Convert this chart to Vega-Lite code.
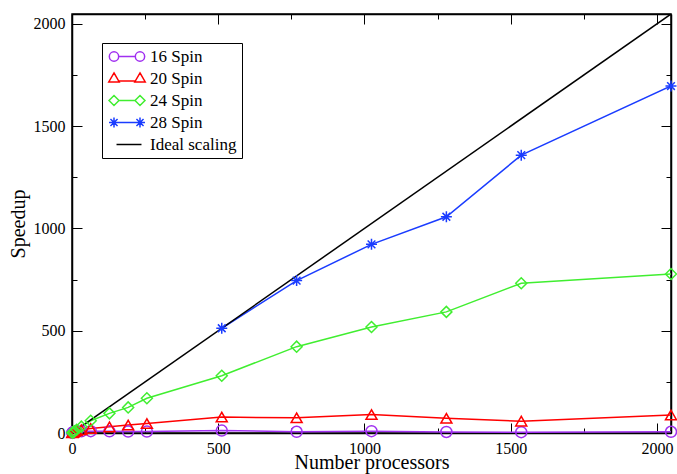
{
  "$schema": "https://vega.github.io/schema/vega-lite/v6.json",
  "width": 599,
  "height": 419,
  "autosize": {"type": "none"},
  "padding": {"left": 72, "top": 14, "right": 6, "bottom": 41},
  "background": "white",
  "config": {"font": "Liberation Serif", "view": {"stroke": "black", "strokeWidth": 1.5}},
  "data": {"values": [
    {"series": "16 Spin", "procs": 1, "speedup": 1},
    {"series": "16 Spin", "procs": 2, "speedup": 2},
    {"series": "16 Spin", "procs": 4, "speedup": 3.5},
    {"series": "16 Spin", "procs": 8, "speedup": 5},
    {"series": "16 Spin", "procs": 16, "speedup": 7},
    {"series": "16 Spin", "procs": 32, "speedup": 8},
    {"series": "16 Spin", "procs": 64, "speedup": 9},
    {"series": "16 Spin", "procs": 128, "speedup": 8},
    {"series": "16 Spin", "procs": 192, "speedup": 7},
    {"series": "16 Spin", "procs": 256, "speedup": 7},
    {"series": "16 Spin", "procs": 512, "speedup": 12},
    {"series": "16 Spin", "procs": 768, "speedup": 6},
    {"series": "16 Spin", "procs": 1024, "speedup": 9},
    {"series": "16 Spin", "procs": 1280, "speedup": 5},
    {"series": "16 Spin", "procs": 1536, "speedup": 4},
    {"series": "16 Spin", "procs": 2048, "speedup": 6},
    {"series": "20 Spin", "procs": 1, "speedup": 1},
    {"series": "20 Spin", "procs": 2, "speedup": 2},
    {"series": "20 Spin", "procs": 4, "speedup": 4},
    {"series": "20 Spin", "procs": 8, "speedup": 7},
    {"series": "20 Spin", "procs": 16, "speedup": 11},
    {"series": "20 Spin", "procs": 32, "speedup": 16},
    {"series": "20 Spin", "procs": 64, "speedup": 22},
    {"series": "20 Spin", "procs": 128, "speedup": 30},
    {"series": "20 Spin", "procs": 192, "speedup": 39},
    {"series": "20 Spin", "procs": 256, "speedup": 46},
    {"series": "20 Spin", "procs": 512, "speedup": 78},
    {"series": "20 Spin", "procs": 768, "speedup": 74},
    {"series": "20 Spin", "procs": 1024, "speedup": 90},
    {"series": "20 Spin", "procs": 1280, "speedup": 72},
    {"series": "20 Spin", "procs": 1536, "speedup": 58},
    {"series": "20 Spin", "procs": 2048, "speedup": 88},
    {"series": "24 Spin", "procs": 1, "speedup": 1},
    {"series": "24 Spin", "procs": 2, "speedup": 2},
    {"series": "24 Spin", "procs": 4, "speedup": 4},
    {"series": "24 Spin", "procs": 8, "speedup": 8},
    {"series": "24 Spin", "procs": 16, "speedup": 16},
    {"series": "24 Spin", "procs": 32, "speedup": 31},
    {"series": "24 Spin", "procs": 64, "speedup": 60},
    {"series": "24 Spin", "procs": 128, "speedup": 96},
    {"series": "24 Spin", "procs": 192, "speedup": 125},
    {"series": "24 Spin", "procs": 256, "speedup": 170},
    {"series": "24 Spin", "procs": 512, "speedup": 280},
    {"series": "24 Spin", "procs": 768, "speedup": 422},
    {"series": "24 Spin", "procs": 1024, "speedup": 518},
    {"series": "24 Spin", "procs": 1280, "speedup": 592},
    {"series": "24 Spin", "procs": 1536, "speedup": 732},
    {"series": "24 Spin", "procs": 2048, "speedup": 777},
    {"series": "28 Spin", "procs": 512, "speedup": 512},
    {"series": "28 Spin", "procs": 768, "speedup": 745},
    {"series": "28 Spin", "procs": 1024, "speedup": 922},
    {"series": "28 Spin", "procs": 1280, "speedup": 1057},
    {"series": "28 Spin", "procs": 1536, "speedup": 1358},
    {"series": "28 Spin", "procs": 2048, "speedup": 1696},
    {"series": "Ideal scaling", "procs": 0, "speedup": 0},
    {"series": "Ideal scaling", "procs": 2048, "speedup": 2048}
  ]},
  "layer": [
    {
      "mark": {"type": "line", "strokeWidth": 1.5, "clip": true},
      "encoding": {
        "x": {"field": "procs", "type": "quantitative", "scale": {"domain": [0, 2048], "nice": false, "zero": true},
          "axis": {"orient": "bottom", "values": [0, 250, 500, 750, 1000, 1250, 1500, 1750, 2000],
            "labelExpr": "datum.value % 500 === 0 ? '' + datum.value : ''",
            "tickSize": {"condition": {"test": "datum.value % 500 !== 0", "value": -5}, "value": -10},
            "labelPadding": 17, "labelFlush": false, "labelOverlap": false, "grid": false,
            "tickColor": "black", "domainColor": "black", "domainWidth": 1.5, "tickWidth": 1,
            "labelFontSize": 16, "labelColor": "black", "labelFont": "Liberation Serif",
            "title": "Number processors", "titleFontSize": 20, "titleFontWeight": "normal", "titleColor": "black", "titleFont": "Liberation Serif", "titlePadding": -9}},
        "y": {"field": "speedup", "type": "quantitative", "scale": {"domain": [0, 2048], "nice": false, "zero": true},
          "axis": {"orient": "left", "values": [0, 250, 500, 750, 1000, 1250, 1500, 1750, 2000],
            "labelExpr": "datum.value % 500 === 0 ? '' + datum.value : ''",
            "tickSize": {"condition": {"test": "datum.value % 500 !== 0", "value": -5}, "value": -10},
            "labelPadding": 17, "labelFlush": false, "labelOverlap": false, "grid": false,
            "tickColor": "black", "domainColor": "black", "domainWidth": 1.5, "tickWidth": 1,
            "labelFontSize": 16, "labelColor": "black", "labelFont": "Liberation Serif",
            "title": "Speedup", "titleFontSize": 20, "titleFontWeight": "normal", "titleColor": "black", "titleFont": "Liberation Serif", "titlePadding": 5}},
        "color": {"field": "series", "type": "nominal",
          "scale": {"domain": ["16 Spin", "20 Spin", "24 Spin", "28 Spin", "Ideal scaling"], "range": ["#a030f0", "#ff0000", "#40ee30", "#1a3cff", "#000000"]},
          "legend": {"orient": "none", "legendX": 30, "legendY": 29, "title": null,
            "strokeColor": "black", "fillColor": "white", "padding": 5,
            "labelFontSize": 17, "labelColor": "black", "labelFont": "Liberation Serif", "labelOffset": 26,
            "symbolSize": 144, "symbolStrokeWidth": 1.5, "rowPadding": 4,
            "encode": {"symbols": {"update": {
              "fill": {"value": "transparent"},
              "shape": {"signal": "datum.value === '16 Spin' ? 'M0.53,0L3.3,0M-1.03,0A0.78,0.78 0 1,0 0.53,0A0.78,0.78 0 1,0 -1.03,0M3.3,0A0.78,0.78 0 1,0 4.86,0A0.78,0.78 0 1,0 3.3,0' : datum.value === '20 Spin' ? 'M-0.25,-0.92L0.62,0.58L-1.12,0.58ZM4.083,-0.92L4.953,0.58L3.213,0.58ZM0.527,0.42L3.306,0.42' : datum.value === '24 Spin' ? 'M-0.25,-0.83L0.58,0L-0.25,0.83L-1.08,0ZM4.083,-0.83L4.913,0L4.083,0.83L3.253,0ZM0.58,0L3.253,0' : datum.value === '28 Spin' ? 'M-1.08,0L0.58,0M-0.25,-0.83L-0.25,0.83M-0.84,-0.59L0.34,0.59M-0.84,0.59L0.34,-0.59M3.253,0L4.913,0M4.083,-0.83L4.083,0.83M3.493,-0.59L4.673,0.59M3.493,0.59L4.673,-0.59M0.58,0L3.253,0' : 'M0.17,0L4.33,0'"}
            }}}}
        }
      }
    },
    {
      "transform": [{"filter": "datum.series !== 'Ideal scaling'"}],
      "mark": {"type": "point", "filled": false, "strokeWidth": 1.5, "size": 121, "opacity": 1, "clip": false},
      "encoding": {
        "x": {"field": "procs", "type": "quantitative",
          "axis": {"orient": "top", "values": [0, 250, 500, 750, 1000, 1250, 1500, 1750, 2000], "labels": false, "title": null,
            "tickSize": {"condition": {"test": "datum.value % 500 !== 0", "value": -5}, "value": -10},
            "grid": false, "tickColor": "black", "domainColor": "black", "domainWidth": 1.5, "tickWidth": 1}},
        "y": {"field": "speedup", "type": "quantitative",
          "axis": {"orient": "right", "values": [0, 250, 500, 750, 1000, 1250, 1500, 1750, 2000], "labels": false, "title": null,
            "tickSize": {"condition": {"test": "datum.value % 500 !== 0", "value": -5}, "value": -10},
            "grid": false, "tickColor": "black", "domainColor": "black", "domainWidth": 1.5, "tickWidth": 1}},
        "color": {"field": "series", "type": "nominal", "legend": null},
        "shape": {"field": "series", "type": "nominal", "legend": null,
          "scale": {"domain": ["16 Spin", "20 Spin", "24 Spin", "28 Spin"], "range": ["circle", "triangle-up", "diamond", "M-1,0L1,0M0,-1L0,1M-0.7,-0.7L0.7,0.7M-0.7,0.7L0.7,-0.7"]}}
      }
    }
  ],
  "resolve": {"axis": {"x": "independent", "y": "independent"}}
}
